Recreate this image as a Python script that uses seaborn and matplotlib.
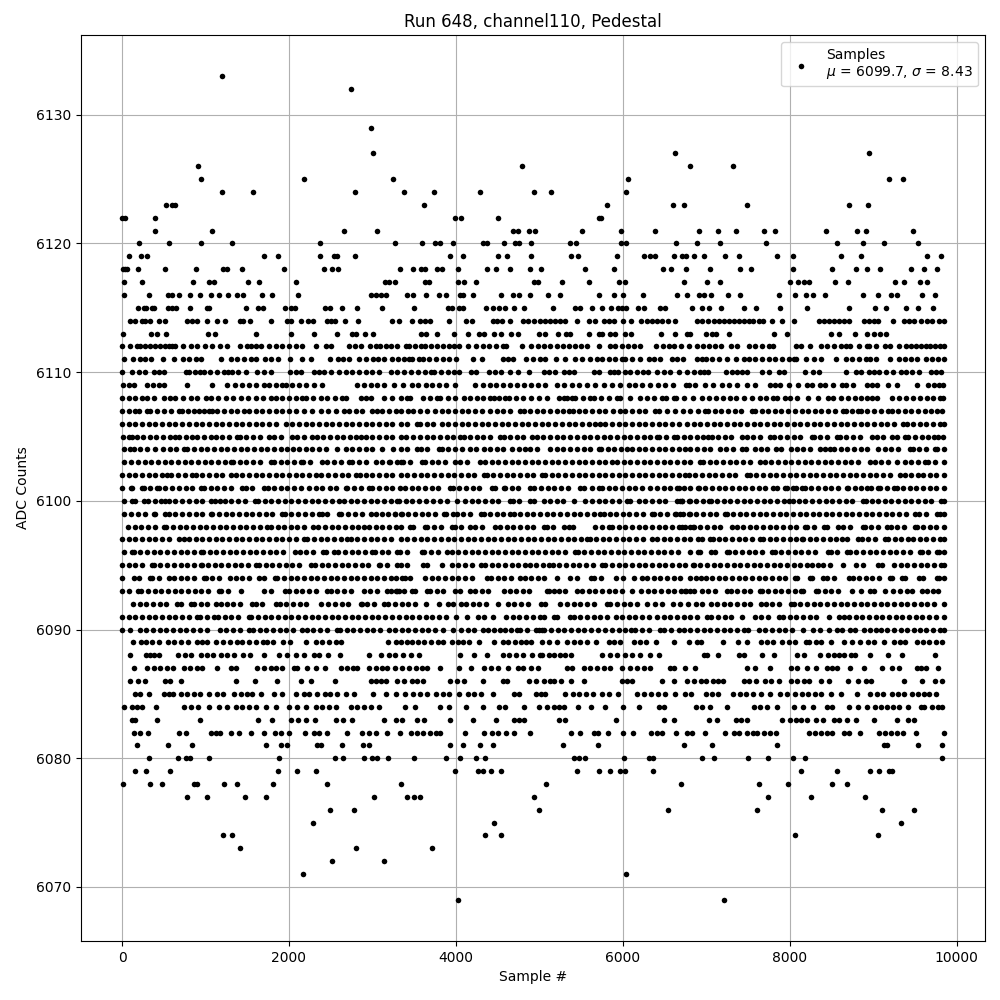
import matplotlib
matplotlib.use("Agg")
import matplotlib.pyplot as plt
import pandas as pd
import seaborn as sns

s6133 = [1196]
s6132 = [2744]
s6129 = [2984]
s6127 = [3008, 6624, 8952]
s6126 = [908, 4796, 6804, 7320]
s6125 = [944, 2180, 3248, 6060, 9192, 9360]
s6124 = [1196, 1568, 2792, 3380, 3740, 4292, 4940, 5136, 6036]
s6123 = [524, 600, 640, 3620, 5808, 6600, 6732, 7488, 8712, 8940]
s6122 = [0, 40, 392, 3992, 4064, 4508, 5712, 5740]
s6121 = [392, 1076, 2660, 3056, 4684, 4744, 4880, 4952, 5508, 5980, 6384, 6912, 7140, 7356, 7692, 7824, 8436, 8808, 8916, 9480]
s6120 = [200, 560, 944, 1316, 2372, 3272, 3596, 3752, 3812, 3968, 4320, 4368, 4580, 4712, 4760, 4904, 5364, 5436, 5980, 6040, 6636, 6892, 7164, 7716, 8568, 8880, 9132, 9540]
s6119 = [80, 224, 304, 1700, 1868, 2372, 2540, 2572, 2792, 3932, 4088, 4508, 4616, 4904, 5376, 5460, 5928, 6260, 6324, 6392, 6612, 6712, 6760, 6852, 6972, 7224, 7392, 7848, 8040, 8620, 8852, 9648, 9820]
s6118 = [10, 30, 60, 188, 512, 888, 1208, 1252, 1436, 1940, 2420, 2516, 2588, 3332, 3488, 3584, 3636, 3776, 3836, 4028, 4376, 4484, 4652, 4892, 5016, 5544, 5892, 6480, 6576, 6756, 7044, 7404, 7532, 8040, 8512, 8796, 8928, 9084, 9456, 9612, 9772]
s6117 = [20, 236, 848, 1040, 1100, 1508, 1640, 2084, 3152, 3200, 3272, 3632, 3680, 4028, 4100, 4244, 4940, 4980, 5268, 5592, 5952, 6024, 6732, 7012, 7164, 8004, 8100, 8172, 8232, 8544, 8700, 9264, 9372, 9564, 9652]
s6116 = [20, 320, 548, 600, 680, 812, 932, 1064, 1160, 1268, 1376, 1448, 1676, 1796, 2108, 2988, 3040, 3100, 3160, 3420, 3488, 3644, 3800, 3884, 4052, 4088, 4208, 4544, 4688, 4760, 4892, 5100, 5244, 5712, 5892, 6000, 6240, 6648, 6768, 6912, 6972, 7056, 7260, 7404, 7872, 8064, 8192, 8284, 8424, 8880, 9064, 9212, 9292, 9592, 9744]
s6115 = [188, 260, 292, 360, 388, 552, 600, 648, 812, 1012, 1040, 1488, 1628, 1688, 1952, 2020, 2072, 2432, 2492, 2636, 2816, 3120, 3500, 3908, 3948, 4040, 4080, 4364, 4440, 4520, 4592, 4700, 4820, 5160, 5424, 5492, 5628, 5748, 5856, 5940, 5992, 6044, 6180, 6252, 6452, 6512, 6828, 6952, 7032, 7172, 7452, 7596, 7884, 8212, 8712, 9024, 9156, 9392, 9540, 9720]
s6114 = [100, 152, 240, 280, 340, 440, 512, 772, 840, 900, 1020, 1140, 1232, 1412, 1452, 1532, 1784, 1980, 2028, 2140, 2228, 2292, 2460, 2500, 2552, 2672, 2824, 3236, 3320, 3476, 3572, 3628, 3692, 3916, 4120, 4196, 4440, 4488, 4556, 4652, 4800, 4860, 4940, 5012, 5072, 5132, 5192, 5252, 5312, 5452, 5592, 5672, 5772, 5832, 5892, 6004, 6104, 6220, 6292, 6352, 6412, 6472, 6540, 6632, 6892, 6952, 7020, 7092, 7152, 7212, 7272, 7332, 7392, 7452, 7512, 7564, 7632, 7684, 7792, 7912, 8052, 8352, 8412, 8472, 8532, 8592, 8652, 8712, 8892, 8952, 9012, 9060, 9236, 9372, 9432, 9492, 9572, 9652, 9712, 9792, 9849]
s6113 = [8, 348, 416, 524, 1028, 1112, 1608, 2024, 2300, 2576, 2760, 2800, 2908, 3008, 3588, 3648, 3776, 3980, 4140, 4280, 4340, 4456, 4544, 4664, 4740, 5000, 5072, 5224, 5324, 5364, 5592, 5712, 5752, 5852, 5904, 6024, 6104, 6456, 6624, 6772, 6804, 7000, 7064, 7120, 7272, 7812, 7972, 8492, 8592, 8784, 8924, 9012, 9080, 9152]
s6112 = [0, 90, 180, 220, 280, 340, 400, 460, 520, 560, 600, 640, 730, 820, 900, 988, 1080, 1170, 1260, 1412, 1500, 1540, 1600, 1660, 1760, 1840, 1920, 2000, 2080, 2160, 2320, 2440, 2500, 2720, 2790, 2860, 2972, 3040, 3092, 3160, 3220, 3292, 3400, 3440, 3510, 3580, 3628, 3700, 3772, 3850, 3920, 3980, 4040, 4148, 4236, 4324, 4400, 4480, 4560, 4604, 4792, 4900, 4980, 5060, 5132, 5210, 5280, 5352, 5430, 5500, 5572, 5712, 5852, 5912, 5992, 6060, 6140, 6212, 6404, 6480, 6552, 6612, 6700, 6800, 6892, 6964, 7030, 7100, 7180, 7292, 7372, 7512, 7580, 7672, 7752, 7800, 8072, 8132, 8244, 8372, 8450, 8530, 8610, 8672, 8724, 8832, 8932, 8952, 9040, 9140, 9204, 9312, 9392, 9460, 9512, 9570, 9632, 9680, 9740, 9804, 9849]
s6111 = [20, 128, 212, 280, 348, 488, 620, 732, 800, 880, 944, 1184, 1300, 1380, 1460, 1540, 1600, 1708, 1788, 1868, 2012, 2156, 2264, 2492, 2588, 2650, 2720, 2840, 2920, 3012, 3068, 3140, 3240, 3310, 3380, 3440, 3480, 3560, 3612, 3680, 3760, 3840, 3920, 4000, 4200, 4308, 4560, 4620, 4680, 4840, 4930, 5012, 5072, 5204, 5312, 5432, 5510, 5612, 5692, 5752, 5830, 5910, 5992, 6032, 6110, 6212, 6312, 6380, 6452, 6592, 6652, 6720, 6892, 6952, 6992, 7070, 7150, 7252, 7352, 7452, 7512, 7580, 7672, 7750, 7830, 7910, 7990, 8052, 8080, 8196, 8292, 8372, 8556, 8672, 8750, 8830, 8912, 8964, 9032, 9204, 9312, 9380, 9452, 9532, 9632, 9712, 9780, 9849]
s6110 = [0, 120, 200, 280, 380, 440, 500, 760, 800, 872, 930, 980, 1052, 1140, 1220, 1270, 1320, 1388, 1480, 1620, 1700, 1780, 2012, 2080, 2140, 2300, 2360, 2420, 2500, 2600, 2680, 2760, 2840, 2920, 3000, 3080, 3220, 3300, 3380, 3468, 3550, 3630, 3700, 3740, 3820, 3900, 3980, 4040, 4180, 4240, 4400, 4470, 4540, 4652, 4740, 4872, 5052, 5120, 5192, 5292, 5350, 5412, 5652, 5712, 5844, 5892, 5940, 6032, 6092, 6170, 6240, 6300, 6412, 6492, 6564, 6672, 6772, 6852, 6920, 6972, 7024, 7232, 7312, 7372, 7430, 7492, 7672, 7750, 7872, 7932, 8180, 8284, 8356, 8672, 8792, 8860, 8952, 9012, 9072, 9150, 9240, 9332, 9392, 9470, 9552, 9692, 9750, 9812]
s6109 = [12, 80, 140, 300, 370, 440, 500, 780, 1080, 1260, 1350, 1440, 1520, 1610, 1700, 1760, 1840, 1920, 1960, 2040, 2120, 2200, 2300, 2400, 2820, 2900, 2980, 3060, 3140, 3260, 3372, 3472, 3552, 3640, 3720, 3800, 3880, 3992, 4232, 4320, 4412, 4484, 4570, 4650, 4730, 4812, 4900, 4990, 5072, 5212, 5300, 5390, 5480, 5572, 5672, 5770, 5870, 5972, 6072, 6150, 6232, 6332, 6420, 6512, 6604, 6792, 6764, 6864, 6984, 7084, 7184, 7276, 7364, 7484, 7584, 7764, 7830, 7884, 7996, 8104, 8204, 8264, 8364, 8424, 8520, 8624, 8672, 8764, 8924, 8990, 9044, 9184, 9292, 9532, 9664, 9730, 9796, 9844]
s6108 = [0, 80, 160, 240, 300, 380, 500, 580, 640, 730, 820, 900, 1000, 1060, 1150, 1240, 1330, 1420, 1510, 1600, 1690, 1780, 1850, 1920, 2000, 2080, 2160, 2200, 2290, 2380, 2460, 2550, 2640, 2688, 2860, 2920, 2980, 3140, 3240, 3340, 3410, 3452, 3612, 3690, 3772, 3812, 3900, 3992, 4092, 4170, 4250, 4330, 4412, 4452, 4520, 4592, 4632, 4720, 4810, 4900, 5000, 5092, 5232, 5292, 5332, 5392, 5432, 5520, 5612, 5652, 5740, 5830, 5932, 5972, 6092, 6212, 6292, 6372, 6472, 6524, 6612, 6644, 6730, 6844, 6944, 7036, 7120, 7200, 7280, 7360, 7450, 7544, 7644, 7720, 7804, 7844, 7944, 8004, 8084, 8224, 8344, 8464, 8524, 8610, 8700, 8780, 8860, 8924, 8984, 9044, 9224, 9310, 9400, 9480, 9560, 9644, 9724, 9804, 9844]
s6107 = [0, 80, 160, 200, 300, 340, 420, 500, 590, 680, 720, 790, 860, 920, 980, 1040, 1080, 1140, 1220, 1300, 1380, 1460, 1520, 1600, 1680, 1760, 1840, 1920, 2000, 2080, 2180, 2280, 2380, 2470, 2560, 2660, 2720, 2800, 2880, 3000, 3060, 3120, 3200, 3280, 3340, 3432, 3492, 3570, 3652, 3752, 3830, 3910, 3990, 4070, 4150, 4230, 4312, 4412, 4490, 4570, 4650, 4772, 4812, 4890, 4970, 5050, 5130, 5210, 5290, 5352, 5404, 5472, 5550, 5630, 5710, 5790, 5880, 5972, 6032, 6110, 6190, 6270, 6392, 6432, 6532, 6632, 6720, 6812, 6900, 6984, 7024, 7100, 7180, 7260, 7340, 7420, 7544, 7584, 7664, 7744, 7820, 7900, 7980, 8060, 8144, 8224, 8300, 8380, 8460, 8540, 8644, 8676, 8750, 8824, 8852, 8930, 9010, 9090, 9184, 9224, 9300, 9380, 9460, 9540, 9620, 9700, 9770, 9824]
s6106 = [0, 80, 160, 240, 320, 400, 480, 560, 640, 720, 800, 880, 960, 1040, 1120, 1200, 1280, 1360, 1440, 1520, 1600, 1680, 1760, 1840, 1960, 2040, 2120, 2200, 2280, 2360, 2440, 2520, 2600, 2680, 2760, 2840, 2920, 3000, 3080, 3160, 3240, 3340, 3420, 3532, 3572, 3650, 3730, 3832, 3910, 3990, 4070, 4150, 4230, 4310, 4390, 4470, 4550, 4630, 4710, 4790, 4870, 4950, 5030, 5110, 5190, 5270, 5350, 5430, 5510, 5590, 5670, 5732, 5792, 5870, 5950, 6030, 6110, 6190, 6270, 6350, 6430, 6510, 6590, 6670, 6772, 6850, 6930, 7010, 7090, 7170, 7250, 7330, 7410, 7490, 7570, 7650, 7730, 7810, 7890, 7970, 8050, 8130, 8210, 8290, 8370, 8450, 8530, 8610, 8690, 8770, 8850, 8930, 9010, 9090, 9170, 9250, 9364, 9404, 9480, 9560, 9640, 9720, 9800, 9849]
s6105 = [12, 80, 120, 180, 252, 330, 410, 490, 570, 640, 680, 760, 840, 900, 980, 1060, 1130, 1200, 1280, 1380, 1412, 1490, 1570, 1650, 1760, 1820, 1900, 2040, 2100, 2180, 2280, 2332, 2410, 2490, 2570, 2650, 2730, 2800, 2860, 2920, 3000, 3080, 3160, 3240, 3340, 3404, 3490, 3570, 3650, 3730, 3810, 3890, 3970, 4052, 4092, 4170, 4250, 4330, 4410, 4532, 4572, 4650, 4730, 4810, 4912, 4972, 5050, 5130, 5210, 5290, 5370, 5450, 5530, 5610, 5690, 5770, 5850, 5930, 6010, 6090, 6170, 6250, 6330, 6412, 6432, 6520, 6612, 6652, 6730, 6812, 6890, 6960, 7024, 7064, 7140, 7220, 7300, 7424, 7492, 7564, 7640, 7764, 7812, 7890, 7970, 8050, 8130, 8264, 8292, 8370, 8450, 8564, 8604, 8680, 8760, 8840, 8984, 9044, 9120, 9224, 9292, 9384, 9424, 9500, 9584, 9664, 9730, 9784, 9844]
s6104 = [28, 92, 140, 220, 300, 400, 492, 570, 650, 740, 780, 860, 940, 1020, 1100, 1180, 1260, 1340, 1420, 1500, 1580, 1660, 1740, 1820, 1900, 1980, 2052, 2120, 2200, 2280, 2360, 2440, 2580, 2680, 2760, 2840, 2920, 3000, 3120, 3252, 3340, 3420, 3532, 3580, 3660, 3792, 3832, 3910, 3990, 4070, 4172, 4244, 4332, 4410, 4490, 4570, 4672, 4752, 4832, 4892, 4972, 5132, 5210, 5290, 5370, 5450, 5530, 5610, 5712, 5740, 5820, 5900, 5980, 6052, 6112, 6190, 6270, 6350, 6430, 6510, 6590, 6670, 6750, 6812, 6890, 6970, 7050, 7164, 7236, 7320, 7424, 7476, 7584, 7652, 7730, 7836, 7892, 8012, 8084, 8160, 8240, 8364, 8424, 8484, 8536, 8610, 8690, 8770, 8850, 8930, 9064, 9144, 9220, 9300, 9444, 9476, 9550, 9630, 9744, 9772, 9849]
s6103 = [28, 110, 190, 270, 350, 430, 510, 590, 670, 750, 830, 910, 990, 1070, 1150, 1230, 1300, 1332, 1410, 1490, 1570, 1650, 1780, 1820, 1900, 1980, 2060, 2140, 2172, 2250, 2400, 2460, 2540, 2620, 2720, 2760, 2840, 2920, 3040, 3120, 3200, 3340, 3212, 3290, 3370, 3450, 3592, 3632, 3710, 3790, 3870, 3992, 4052, 4130, 4292, 4352, 4430, 4510, 4590, 4670, 4750, 4830, 4910, 4990, 5070, 5150, 5230, 5310, 5390, 5470, 5550, 5630, 5710, 5790, 5872, 5932, 6010, 6090, 6170, 6250, 6330, 6410, 6490, 6570, 6650, 6730, 6812, 6924, 6964, 7040, 7120, 7200, 7280, 7360, 7440, 7520, 7644, 7704, 7780, 7860, 7940, 8020, 8100, 8180, 8260, 8340, 8420, 8500, 8580, 8660, 8740, 8820, 8964, 9024, 9100, 9180, 9284, 9384, 9460, 9540, 9624, 9664, 9740, 9849]
s6102 = [0, 80, 160, 240, 320, 400, 480, 540, 588, 670, 750, 840, 880, 960, 1040, 1120, 1200, 1300, 1360, 1440, 1520, 1600, 1680, 1760, 1840, 1920, 2000, 2080, 2160, 2240, 2320, 2388, 2470, 2550, 2630, 2710, 2800, 2852, 2920, 3000, 3080, 3160, 3240, 3340, 3420, 3500, 3580, 3660, 3740, 3820, 3900, 3980, 4060, 4140, 4220, 4332, 4372, 4450, 4530, 4610, 4690, 4770, 4850, 4930, 5032, 5072, 5150, 5230, 5310, 5390, 5470, 5550, 5630, 5710, 5790, 5870, 5950, 6030, 6110, 6190, 6270, 6350, 6430, 6510, 6590, 6670, 6752, 6792, 6870, 6950, 7030, 7110, 7190, 7270, 7350, 7484, 7524, 7600, 7680, 7760, 7840, 7920, 8000, 8080, 8160, 8240, 8320, 8400, 8480, 8560, 8640, 8720, 8800, 8880, 8960, 9040, 9120, 9200, 9324, 9384, 9460, 9544, 9596, 9680, 9760, 9849]
s6101 = [0, 112, 120, 240, 260, 340, 420, 440, 520, 600, 680, 760, 840, 940, 980, 1060, 1140, 1220, 1300, 1440, 1488, 1560, 1700, 1748, 1820, 1900, 1980, 2060, 2140, 2240, 2320, 2400, 2492, 2560, 2680, 2700, 2780, 2860, 2960, 3000, 3080, 3160, 3240, 3332, 3392, 3480, 3552, 3630, 3710, 3790, 3932, 3964, 4040, 4120, 4200, 4280, 4432, 4472, 4572, 4592, 4670, 4750, 4892, 4940, 5020, 5100, 5180, 5260, 5340, 5492, 5532, 5630, 5712, 5752, 5830, 5910, 5990, 6070, 6150, 6230, 6332, 6412, 6490, 6570, 6652, 6672, 6740, 6812, 6904, 6916, 6990, 7070, 7150, 7230, 7310, 7390, 7470, 7550, 7630, 7710, 7804, 7844, 7944, 7964, 8044, 8076, 8144, 8184, 8260, 8340, 8420, 8500, 8580, 8684, 8704, 8780, 8860, 8924, 8972, 9064, 9084, 9170, 9252, 9284, 9360, 9440, 9520, 9600, 9680, 9760, 9849]
s6100 = [20, 120, 152, 260, 308, 390, 470, 520, 560, 640, 720, 800, 880, 960, 1060, 1108, 1172, 1228, 1310, 1390, 1470, 1588, 1628, 1710, 1790, 1870, 1950, 2030, 2110, 2190, 2270, 2350, 2430, 2510, 2604, 2660, 2740, 2820, 2900, 2980, 3060, 3140, 3220, 3300, 3324, 3400, 3480, 3560, 3640, 3732, 3812, 3890, 4012, 4112, 4190, 4270, 4350, 4430, 4510, 4644, 4680, 4760, 4892, 4932, 5052, 5132, 5210, 5290, 5412, 5552, 5630, 5710, 5790, 5870, 5950, 6052, 6092, 6192, 6270, 6350, 6430, 6510, 6652, 6712, 6812, 6684, 6716, 6800, 6880, 6960, 7036, 7052, 7130, 7210, 7290, 7370, 7450, 7530, 7610, 7690, 7770, 7850, 7930, 7996, 8036, 8110, 8190, 8270, 8350, 8430, 8510, 8590, 8670, 8750, 8884, 8916, 8984, 9060, 9140, 9220, 9300, 9380, 9460, 9540, 9620, 9700, 9812, 9849]
s6099 = [28, 110, 190, 270, 380, 400, 520, 560, 640, 720, 800, 880, 960, 1060, 1080, 1160, 1240, 1320, 1400, 1480, 1560, 1640, 1720, 1800, 1920, 1952, 2030, 2110, 2190, 2270, 2360, 2400, 2460, 2600, 2628, 2710, 2790, 2870, 2980, 3040, 3112, 3190, 3270, 3340, 3272, 3350, 3430, 3510, 3590, 3670, 3750, 3852, 3884, 3964, 4012, 4090, 4170, 4300, 4332, 4410, 4490, 4570, 4652, 4692, 4770, 4850, 4930, 5010, 5090, 5170, 5250, 5330, 5410, 5490, 5570, 5650, 5732, 5772, 5844, 5920, 6000, 6080, 6160, 6240, 6352, 6372, 6450, 6530, 6632, 6692, 6812, 6636, 6720, 6800, 6880, 6960, 7040, 7120, 7224, 7244, 7320, 7400, 7480, 7560, 7640, 7720, 7800, 7880, 7960, 8040, 8120, 8200, 8284, 8350, 8430, 8510, 8590, 8670, 8750, 8830, 8910, 8990, 9070, 9150, 9230, 9310, 9390, 9504, 9556, 9640, 9764, 9804, 9849]
s6098 = [68, 150, 230, 310, 390, 500, 532, 610, 690, 770, 850, 930, 1010, 1090, 1170, 1250, 1330, 1410, 1490, 1570, 1650, 1740, 1780, 1868, 1940, 2020, 2100, 2180, 2292, 2348, 2430, 2510, 2590, 2670, 2750, 2830, 2900, 2960, 3040, 3120, 3200, 3280, 3340, 3452, 3484, 3632, 3660, 3740, 3820, 3952, 3988, 4060, 4172, 4232, 4310, 4472, 4532, 4610, 4690, 4770, 4850, 4930, 5052, 5092, 5170, 5292, 5352, 5404, 5672, 5750, 5832, 5872, 5950, 6030, 6112, 6192, 6270, 6350, 6430, 6510, 6590, 6670, 6812, 6716, 6744, 6844, 6852, 6930, 7010, 7090, 7170, 7304, 7364, 7440, 7520, 7600, 7680, 7760, 7840, 7920, 8000, 8080, 8184, 8212, 8290, 8412, 8444, 8584, 8644, 8720, 8876, 8904, 8980, 9060, 9164, 9212, 9290, 9370, 9504, 9524, 9600, 9680, 9760, 9849]
s6097 = [0, 80, 160, 240, 320, 400, 480, 560, 688, 740, 800, 880, 960, 1040, 1120, 1200, 1280, 1360, 1440, 1520, 1600, 1680, 1760, 1840, 1920, 2000, 2080, 2180, 2220, 2300, 2380, 2460, 2540, 2620, 2700, 2740, 2820, 2900, 2980, 3060, 3140, 3220, 3340, 3420, 3500, 3580, 3660, 3740, 3820, 3900, 3980, 4060, 4140, 4220, 4300, 4380, 4460, 4540, 4620, 4700, 4780, 4860, 4940, 5020, 5100, 5180, 5260, 5340, 5420, 5500, 5572, 5604, 5680, 5760, 5840, 5920, 6000, 6080, 6160, 6240, 6352, 6412, 6490, 6570, 6650, 6730, 6812, 6904, 6944, 7044, 7076, 7150, 7230, 7310, 7390, 7470, 7550, 7644, 7684, 7760, 7840, 7920, 8000, 8080, 8144, 8164, 8240, 8320, 8400, 8480, 8560, 8624, 8692, 8824, 8864, 8944, 9020, 9144, 9184, 9260, 9340, 9424, 9484, 9560, 9640, 9720, 9800, 9849]
s6096 = [20, 120, 140, 220, 300, 380, 460, 540, 620, 700, 780, 860, 950, 972, 1050, 1130, 1210, 1290, 1370, 1450, 1530, 1610, 1690, 1770, 1850, 1930, 2072, 2132, 2210, 2290, 2412, 2440, 2540, 2588, 2670, 2750, 2830, 2910, 3000, 3028, 3110, 3190, 3300, 3332, 3410, 3592, 3624, 3700, 3780, 3892, 3956, 4030, 4110, 4190, 4270, 4350, 4430, 4510, 4590, 4670, 4750, 4830, 4910, 4990, 5070, 5150, 5230, 5310, 5432, 5460, 5540, 5620, 5700, 5780, 5860, 5940, 6020, 6100, 6180, 6260, 6340, 6420, 6500, 6580, 6660, 6812, 6904, 6924, 7052, 7104, 7244, 7276, 7350, 7430, 7510, 7590, 7670, 7784, 7824, 7900, 7980, 8060, 8140, 8220, 8300, 8464, 8496, 8570, 8692, 8724, 8800, 8880, 8960, 9040, 9120, 9200, 9280, 9360, 9440, 9564, 9584, 9660, 9764, 9796, 9849]
s6095 = [0, 80, 160, 240, 360, 380, 460, 540, 620, 700, 780, 860, 940, 952, 1030, 1110, 1190, 1270, 1350, 1430, 1510, 1600, 1640, 1720, 1800, 1880, 1960, 2040, 2120, 2260, 2308, 2390, 2470, 2550, 2630, 2710, 2790, 2870, 2950, 3080, 3092, 3170, 3300, 3344, 3420, 3612, 3652, 3832, 3952, 4030, 4110, 4190, 4300, 4352, 4430, 4510, 4590, 4670, 4750, 4832, 4884, 4960, 5040, 5112, 5164, 5240, 5320, 5400, 5480, 5560, 5640, 5752, 5792, 5870, 5950, 6030, 6110, 6190, 6270, 6350, 6430, 6510, 6590, 6670, 6750, 6844, 6852, 6930, 7010, 7090, 7170, 7250, 7330, 7410, 7490, 7570, 7650, 7730, 7810, 7890, 7970, 8050, 8130, 8204, 8264, 8344, 8396, 8480, 8644, 8796, 8880, 9064, 9104, 9252, 9332, 9410, 9490, 9570, 9650, 9730, 9810, 9849]
s6094 = [0, 140, 200, 332, 360, 440, 560, 620, 700, 780, 860, 980, 1000, 1080, 1160, 1292, 1360, 1440, 1520, 1640, 1700, 1828, 1860, 1940, 2020, 2100, 2180, 2260, 2340, 2420, 2500, 2580, 2660, 2740, 2820, 2900, 2980, 3060, 3140, 3220, 3280, 3352, 3392, 3452, 3632, 3710, 3790, 3870, 3950, 4030, 4110, 4190, 4372, 4424, 4500, 4580, 4660, 4772, 4824, 4900, 4980, 5060, 5212, 5364, 5450, 5620, 5660, 5740, 5924, 6004, 6132, 6232, 6292, 6370, 6450, 6530, 6610, 6690, 6812, 6876, 6932, 6996, 7070, 7150, 7230, 7310, 7390, 7470, 7550, 7630, 7710, 7790, 7870, 7950, 8064, 8092, 8244, 8264, 8404, 8452, 8530, 8712, 8756, 8830, 8910, 8990, 9070, 9204, 9224, 9344, 9384, 9556, 9596, 9764, 9788, 9849]
s6093 = [0, 80, 188, 228, 310, 390, 470, 550, 630, 710, 790, 870, 950, 1030, 1160, 1188, 1270, 1428, 1700, 1780, 1948, 2000, 2080, 2160, 2240, 2320, 2460, 2500, 2580, 2660, 2740, 2900, 2972, 3050, 3180, 3220, 3280, 3320, 3300, 3380, 3472, 3512, 3652, 3692, 3770, 3850, 3992, 4052, 4172, 4232, 4310, 4390, 4572, 4644, 4720, 4800, 4880, 5092, 5112, 5172, 5232, 5310, 5452, 5512, 5590, 5670, 5750, 5830, 5910, 5990, 6112, 6220, 6300, 6380, 6460, 6540, 6620, 6700, 6812, 6744, 6764, 6852, 6944, 7020, 7100, 7244, 7296, 7370, 7450, 7530, 7644, 7664, 7740, 7820, 7900, 7980, 8060, 8132, 8164, 8316, 8344, 8420, 8500, 8580, 8744, 8852, 8964, 9012, 9144, 9236, 9320, 9404, 9464, 9584, 9652, 9724, 9784]
s6092 = [132, 210, 290, 370, 450, 530, 660, 700, 820, 860, 940, 1020, 1120, 1180, 1260, 1332, 1410, 1560, 1600, 1680, 1840, 1892, 1970, 2050, 2130, 2210, 2380, 2468, 2550, 2630, 2710, 2860, 2880, 2940, 3020, 3140, 3188, 3270, 3350, 3430, 3510, 3640, 3800, 3900, 3960, 4060, 4120, 4200, 4280, 4360, 4500, 4620, 4700, 4780, 4860, 5020, 5072, 5252, 5330, 5410, 5490, 5570, 5650, 5812, 5852, 5930, 6010, 6090, 6170, 6292, 6392, 6470, 6604, 6692, 6780, 6872, 6952, 7052, 7132, 7210, 7290, 7370, 7450, 7530, 7652, 7712, 7790, 7870, 8012, 8052, 8130, 8210, 8290, 8370, 8450, 8530, 8610, 8690, 8770, 8850, 8930, 9010, 9090, 9170, 9250, 9330, 9410, 9490, 9570, 9650, 9730, 9849]
s6091 = [0, 80, 160, 240, 320, 400, 480, 560, 640, 720, 800, 900, 932, 1012, 1100, 1148, 1230, 1310, 1390, 1520, 1548, 1630, 1710, 1790, 1870, 1950, 2030, 2110, 2190, 2270, 2350, 2430, 2510, 2590, 2670, 2750, 2830, 2910, 2990, 3070, 3150, 3230, 3320, 3400, 3480, 3560, 3640, 3720, 3800, 3880, 4000, 4132, 4260, 4340, 4450, 4600, 4680, 4760, 4840, 4920, 5012, 5060, 5172, 5212, 5364, 5412, 5490, 5570, 5650, 5730, 5810, 5924, 5992, 6070, 6150, 6230, 6310, 6412, 6492, 6570, 6650, 6730, 6810, 6890, 7012, 7060, 7140, 7220, 7300, 7432, 7580, 7660, 7740, 7872, 7924, 8000, 8080, 8160, 8240, 8320, 8472, 8592, 8652, 8712, 8790, 8870, 8950, 9030, 9110, 9190, 9270, 9350, 9430, 9510, 9590, 9670, 9750, 9849]
s6090 = [0, 100, 212, 290, 370, 450, 530, 610, 690, 770, 850, 930, 1020, 1172, 1250, 1330, 1410, 1520, 1572, 1650, 1730, 1810, 1890, 1970, 2050, 2160, 2212, 2290, 2370, 2450, 2572, 2612, 2690, 2770, 2850, 2930, 3010, 3090, 3204, 3268, 3350, 3430, 3510, 3590, 3670, 3750, 3840, 3960, 4060, 4140, 4220, 4320, 4380, 4460, 4532, 4588, 4660, 4732, 4772, 4850, 4960, 5000, 5032, 5060, 5140, 5220, 5300, 5380, 5460, 5540, 5620, 5700, 5792, 5872, 5950, 6030, 6100, 6152, 6230, 6310, 6452, 6492, 6580, 6672, 6732, 6810, 6890, 6970, 7050, 7130, 7210, 7290, 7370, 7452, 7500, 7632, 7710, 7790, 7870, 7950, 8032, 8160, 8280, 8364, 8472, 8572, 8632, 8720, 8780, 8892, 8960, 9032, 9092, 9170, 9250, 9330, 9410, 9492, 9564, 9640, 9720, 9800, 9849]
s6089 = [128, 228, 288, 360, 440, 552, 628, 700, 788, 892, 960, 1020, 1120, 1212, 1292, 1380, 1440, 1520, 1600, 1692, 1732, 1810, 1928, 2008, 2204, 2320, 2400, 2480, 2560, 2628, 3188, 3280, 3348, 3412, 3480, 3548, 3620, 3700, 3780, 3848, 3948, 4020, 4088, 4160, 4280, 4460, 4560, 4628, 4708, 4780, 4840, 4900, 5032, 5120, 5212, 5332, 5410, 5490, 5570, 5684, 5832, 5900, 5972, 6132, 6210, 6284, 6396, 6612, 6792, 6884, 6940, 7200, 7380, 7492, 7652, 7730, 7804, 7912, 7990, 8070, 8192, 8232, 8312, 8372, 8500, 8652, 8752, 8844, 8940, 9012, 9132, 9252, 9320, 9380, 9532, 9600, 9672, 9752, 9832]
s6088 = [100, 288, 340, 380, 444, 668, 750, 830, 940, 1012, 1090, 1180, 1252, 1340, 1452, 1532, 1700, 1880, 1980, 2080, 2180, 2300, 2360, 2468, 2612, 2960, 3108, 3200, 3272, 3372, 3460, 3560, 4052, 4220, 4376, 4560, 4640, 4720, 4800, 4908, 5012, 5032, 5112, 5172, 5244, 5312, 5380, 5748, 5852, 5930, 6032, 6112, 6212, 6332, 6432, 6972, 7012, 7140, 7392, 7452, 7664, 7812, 8084, 8172, 8364, 8460, 8532, 8592, 8652, 8732, 8780, 8964, 9180, 9348, 9744]
s6087 = [140, 300, 380, 460, 540, 612, 740, 812, 900, 960, 1136, 1308, 1360, 1620, 1700, 1780, 1840, 1916, 2060, 2100, 2212, 2320, 2428, 2628, 2692, 2768, 2820, 2960, 3040, 3120, 3180, 3272, 3360, 3440, 3520, 3590, 3660, 3804, 4040, 4184, 4340, 4420, 4500, 4628, 4748, 4800, 4900, 4990, 5332, 5392, 5532, 5612, 5690, 5770, 5852, 5992, 6092, 6172, 6250, 6332, 6564, 6612, 6744, 6864, 7492, 7580, 7764, 8012, 8090, 8212, 8316, 8452, 8510, 8572, 8724, 8892, 9108, 9232, 9312, 9524, 9580, 9632, 9780]
s6086 = [100, 190, 280, 520, 580, 704, 1360, 1592, 1860, 2140, 2264, 2552, 2980, 3040, 3100, 3160, 3300, 3380, 3472, 3540, 3612, 3932, 4016, 4100, 4328, 4560, 4612, 4880, 4960, 5052, 5132, 5172, 5260, 5380, 5540, 5992, 6050, 6112, 6468, 6612, 6772, 6852, 6932, 6992, 7084, 7144, 7204, 7452, 7512, 7592, 7704, 7780, 7872, 8012, 8092, 8172, 8232, 8372, 8472, 8700, 8820, 8912, 8980, 9372, 9592, 9744, 9832]
s6085 = [160, 220, 324, 500, 560, 612, 700, 780, 860, 928, 1040, 1140, 1212, 1340, 1420, 1500, 1560, 1660, 1820, 1920, 2088, 2180, 2240, 2340, 2428, 2492, 2580, 2680, 2780, 3008, 3160, 3280, 3392, 3488, 3572, 3660, 3760, 3840, 3920, 4040, 4140, 4212, 4304, 4444, 4700, 4760, 4960, 5020, 5072, 5312, 5400, 5480, 5560, 5640, 5752, 5832, 5948, 6172, 6260, 6340, 6420, 6512, 6624, 6752, 6820, 6992, 7072, 7140, 7320, 7400, 7480, 7560, 7652, 7764, 7884, 7972, 8060, 8152, 8224, 8300, 8380, 8492, 8620, 8812, 8964, 9052, 9124, 9232, 9300, 9372, 9472, 9540, 9612, 9672, 9760]
s6084 = [28, 120, 180, 240, 412, 740, 820, 908, 1040, 1160, 1260, 1360, 1440, 1520, 1600, 1720, 1840, 2000, 2100, 2200, 2320, 2400, 2480, 2564, 2740, 2820, 2900, 2980, 3080, 3392, 3512, 3812, 3920, 4124, 4320, 4520, 4588, 4820, 4992, 5092, 5172, 5232, 5292, 5460, 5616, 5784, 6008, 6192, 6432, 6492, 6872, 6952, 7048, 7248, 7572, 7650, 7730, 7844, 8052, 8160, 8280, 8444, 8512, 8712, 8820, 8928, 9024, 9092, 9170, 9240, 9312, 9420, 9572, 9612, 9712, 9780, 9832]
s6083 = [120, 160, 416, 932, 1632, 1792, 2024, 2108, 2204, 2312, 2564, 2648, 2756, 3140, 3288, 3356, 3536, 3620, 3928, 4208, 4480, 4700, 4760, 4820, 5232, 5304, 5924, 6492, 6612, 7032, 7132, 7352, 7420, 7492, 7912, 8004, 8072, 8132, 8208, 8312, 8400, 8532, 8592, 8692, 8800, 9012, 9284, 9420, 9492]
s6082 = [140, 212, 308, 680, 760, 1060, 1120, 1172, 1304, 1400, 1544, 1700, 1828, 1910, 2000, 2192, 2300, 2360, 2452, 2700, 2872, 2960, 3040, 3176, 3332, 3460, 3530, 3610, 3690, 3760, 3812, 4112, 4340, 4428, 4508, 4600, 4692, 4892, 5380, 5484, 5652, 5700, 5820, 6004, 6120, 6340, 6410, 6472, 6636, 6772, 6832, 6984, 7228, 7332, 7392, 7492, 7560, 7612, 7692, 7760, 7832, 8232, 8300, 8380, 8450, 8512, 8652, 8712, 8844, 9072, 9140, 9210, 9292, 9364, 9520, 9849]
s6081 = [180, 552, 836, 1724, 1908, 1976, 2332, 2380, 2636, 2888, 2960, 3932, 4088, 4292, 4448, 5284, 5704, 6732, 7068, 7848, 9132, 9172, 9540, 9828]
s6080 = [320, 668, 760, 812, 1040, 1880, 2552, 2648, 2900, 3000, 3052, 3188, 3500, 3884, 4052, 4244, 4352, 5412, 5472, 5552, 6012, 6312, 6364, 6952, 7092, 7500, 7740, 8040, 8184, 9828]
s6079 = [152, 284, 572, 1868, 2096, 2324, 3992, 4260, 4328, 4424, 4544, 5448, 5712, 5844, 5972, 6032, 6360, 8136, 8568, 8964, 9072, 9192, 9232]
s6078 = [8, 332, 476, 860, 900, 1220, 1376, 1808, 2456, 3344, 5076, 6696, 7632, 7980, 8508, 8688]
s6077 = [776, 1016, 1472, 1724, 3020, 3416, 3500, 3572, 4932, 7740, 8256, 8904]
s6076 = [2492, 2780, 4996, 6540, 7608, 9108, 9492]
s6075 = [2288, 4460, 9336]
s6074 = [1208, 1316, 4352, 4544, 8064, 9060]
s6073 = [1412, 2804, 3716]
s6072 = [2516, 3140]
s6071 = [2168, 6036]
s6069 = [4028, 7212]

rows = {
    6133: s6133, 6132: s6132, 6129: s6129, 6127: s6127, 6126: s6126, 6125: s6125,
    6124: s6124, 6123: s6123, 6122: s6122, 6121: s6121, 6120: s6120, 6119: s6119,
    6118: s6118, 6117: s6117, 6116: s6116, 6115: s6115, 6114: s6114, 6113: s6113,
    6112: s6112, 6111: s6111, 6110: s6110, 6109: s6109, 6108: s6108, 6107: s6107,
    6106: s6106, 6105: s6105, 6104: s6104, 6103: s6103, 6102: s6102, 6101: s6101,
    6100: s6100, 6099: s6099, 6098: s6098, 6097: s6097, 6096: s6096, 6095: s6095,
    6094: s6094, 6093: s6093, 6092: s6092, 6091: s6091, 6090: s6090, 6089: s6089,
    6088: s6088, 6087: s6087, 6086: s6086, 6085: s6085, 6084: s6084, 6083: s6083,
    6082: s6082, 6081: s6081, 6080: s6080, 6079: s6079, 6078: s6078, 6077: s6077,
    6076: s6076, 6075: s6075, 6074: s6074, 6073: s6073, 6072: s6072, 6071: s6071,
    6069: s6069,
}
df = pd.DataFrame(
    [(x, level) for level, xs in rows.items() for x in xs],
    columns=["sample", "adc"],
)

fig, ax = plt.subplots(figsize=(10, 10), dpi=100)
sns.scatterplot(
    data=df, x="sample", y="adc", marker="o", s=16, color="black",
    linewidth=0, zorder=2, ax=ax,
    label="Samples\n$\\mu$ = 6099.7, $\\sigma$ = 8.43",
)
ax.set_title("Run 648, channel110, Pedestal")
ax.set_xlabel("Sample #")
ax.set_ylabel("ADC Counts")
ax.grid(True)
ax.legend(loc="upper right")
fig.subplots_adjust(left=0.081, right=0.985, top=0.965, bottom=0.059)
fig.savefig("out.png", dpi=100)
